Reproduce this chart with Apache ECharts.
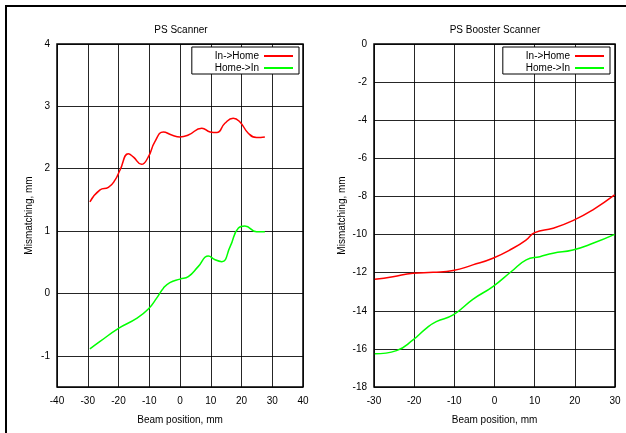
<!DOCTYPE html>
<html><head><meta charset="utf-8">
<script src="https://cdn.jsdelivr.net/npm/echarts@6/dist/echarts.min.js"></script>
<style>html,body{margin:0;padding:0;background:#fff}#c{width:626px;height:433px}</style>
</head><body><div id="c"></div>
<script>
// PS Scanner (left panel)
const psInHome = [[-29.3,1.47],[-26.0,1.66],[-23.3,1.70],[-21.1,1.82],[-19.5,1.98],[-16.8,2.24],[-15.2,2.19],[-12.5,2.07],[-10.3,2.19],[-8.2,2.43],[-5.4,2.59],[-2.7,2.54],[0,2.51],[2.7,2.54],[7.1,2.65],[9.8,2.59],[12.0,2.58],[14.6,2.73],[17.3,2.81],[19.5,2.75],[22.2,2.57],[24.9,2.50],[27.6,2.51]];
const psHomeIn = [[-29.3,-0.89],[-26.0,-0.77],[-20.0,-0.56],[-14.1,-0.40],[-10.3,-0.25],[-7.6,-0.075],[-5.4,0.085],[-3.3,0.175],[0,0.23],[2.7,0.27],[5.9,0.43],[9.2,0.60],[11.4,0.54],[13.6,0.51],[16.3,0.75],[19.0,1.05],[21.1,1.08],[24.9,0.99],[27.6,0.99]];
// PS Booster Scanner (right panel)
const psbInHome = [[-29.8,-12.35],[-25.3,-12.21],[-20.3,-12.03],[-15.3,-11.98],[-10.3,-11.89],[-5.4,-11.59],[-0.4,-11.24],[4.6,-10.72],[7.9,-10.28],[10.0,-9.90],[14.6,-9.67],[19.5,-9.27],[24.5,-8.70],[29.9,-7.92]];
const psbHomeIn = [[-29.8,-16.26],[-24.4,-16.09],[-20.3,-15.53],[-17.0,-14.92],[-14.5,-14.57],[-10.3,-14.22],[-5.4,-13.40],[-0.4,-12.73],[4.2,-11.94],[7.9,-11.33],[11.3,-11.16],[14.6,-10.98],[19.5,-10.81],[24.5,-10.46],[29.9,-9.99]];
const titles = ['PS Scanner','PS Booster Scanner'];
const seriesNames = ['In->Home','Home->In'];
const xName = 'Beam position, mm';
const yName = 'Mismatching, mm';

const FONT = 'Liberation Sans, Arial, sans-serif';
const FS = 10;
const chart = echarts.init(document.getElementById('c'), null, {renderer:'canvas'});
const gridLine = {show:true, lineStyle:{color:'#000', width:1, opacity:0.85}};
function xAxis(idx, min, max){
  return {gridIndex:idx, type:'value', min, max, interval:10,
    name:xName, nameLocation:'middle', nameGap:28, nameTextStyle:{color:'#000', fontSize:FS, fontFamily:FONT},
    axisLine:{show:false}, axisTick:{show:false}, splitLine:gridLine,
    axisLabel:{color:'#000', fontSize:FS, fontFamily:FONT, margin:9}};
}
function yAxis(idx, min, max, interval, gap){
  const a = {gridIndex:idx, type:'value', min, max,
    name:yName, nameLocation:'middle', nameRotate:90, nameGap:gap, nameTextStyle:{color:'#000', fontSize:FS, fontFamily:FONT},
    axisLine:{show:false}, axisTick:{show:false}, splitLine:gridLine,
    axisLabel:{color:'#000', fontSize:FS, fontFamily:FONT, margin:7,
      formatter: v => (Math.abs(v - Math.round(v)) > 1e-9 ? '' : String(v))}};
  if (interval) a.interval = interval; else a.splitNumber = 5;
  return a;
}
function line(name, data, color, xi){
  return {name, type:'line', xAxisIndex:xi, yAxisIndex:xi, data, smooth:0.5, showSymbol:false,
    lineStyle:{color, width:1.5}, itemStyle:{color}, animation:false};
}
function legend(right){
  return {data:seriesNames, orient:'vertical', right, top:47, itemGap:0, itemWidth:29, itemHeight:2,
    icon:'rect', align:'right', backgroundColor:'#fff', borderColor:'#000', borderWidth:1,
    padding:[3,6,0,23],
    textStyle:{color:'#000', fontSize:FS, fontFamily:FONT, lineHeight:12}};
}
chart.setOption({
  backgroundColor:'#fff',
  title:[
    {text:titles[0], left:176, top:20, textAlign:'center', textStyle:{fontSize:FS, fontWeight:'normal', color:'#000', fontFamily:FONT}},
    {text:titles[1], left:490, top:20, textAlign:'center', textStyle:{fontSize:FS, fontWeight:'normal', color:'#000', fontFamily:FONT}}
  ],
  legend:[legend(327), legend(16)],
  grid:[
    {left:57, right:323, top:44, bottom:46, show:true, borderColor:'#000', borderWidth:1.5, containLabel:false},
    {left:374, right:11, top:44, bottom:46, show:true, borderColor:'#000', borderWidth:1.5, containLabel:false}
  ],
  xAxis:[xAxis(0,-40,40), xAxis(1,-30,30)],
  yAxis:[yAxis(0,-1.5,4,null,23), yAxis(1,-18,0,2,27)],
  series:[
    line(seriesNames[0], psInHome, '#ff0000', 0),
    line(seriesNames[1], psHomeIn, '#00ff00', 0),
    line(seriesNames[0], psbInHome, '#ff0000', 1),
    line(seriesNames[1], psbHomeIn, '#00ff00', 1)
  ],
  graphic:[
    {type:'line', shape:{x1:5, y1:6, x2:626, y2:6}, style:{stroke:'#000', lineWidth:2}},
    {type:'line', shape:{x1:6, y1:5, x2:6, y2:433}, style:{stroke:'#000', lineWidth:2}}
  ]
});
</script></body></html>
